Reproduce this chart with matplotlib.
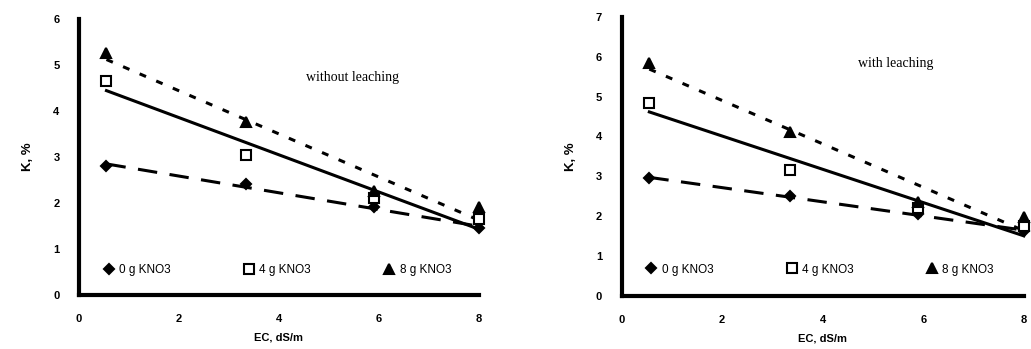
import numpy as np
import matplotlib.pyplot as plt

plt.rcParams['lines.scale_dashes'] = False
plt.rcParams['font.family'] = ['Liberation Sans', 'DejaVu Sans']

# data
ec = [0.55, 3.35, 5.9, 8.0]
labels = ["0 g KNO3", "4 g KNO3", "8 g KNO3"]

k_without_0 = [2.8, 2.4, 1.9, 1.45]
k_without_4 = [4.65, 3.05, 2.1, 1.65]
k_without_8 = [5.25, 3.75, 2.25, 1.9]

k_with_0 = [2.95, 2.5, 2.05, 1.62]
k_with_4 = [4.85, 3.15, 2.2, 1.75]
k_with_8 = [5.85, 4.1, 2.35, 1.97]

markers = ["D", "s", "^"]
facecols = ["black", "white", "black"]
dashes = [(14, 9), None, (5, 8)]


def panel(ax, series, ymax, title, tx, ty, leg_y):
    x = np.array(ec)
    xx = np.linspace(x[0], x[-1], 50)
    for ys, m, fc, d, lab in zip(series, markers, facecols, dashes, labels):
        # linear trend line through each series
        p = np.polyfit(x, ys, 1)
        line, = ax.plot(xx, np.polyval(p, xx), color="black", lw=2.2, clip_on=False)
        if d is not None:
            line.set_dashes(d)
        ax.plot(x, ys, linestyle="none", marker=m, markersize=6.5 if m != "D" else 5,
                markerfacecolor=fc, markeredgecolor="black", markeredgewidth=1.5,
                clip_on=False, label=lab, zorder=5)
    ax.set_xlim(0, 8)
    ax.set_ylim(0, ymax)
    ax.set_xticks([0, 2, 4, 6, 8])
    ax.set_yticks(range(0, ymax + 1))
    for s in ["top", "right"]:
        ax.spines[s].set_visible(False)
    for s in ["left", "bottom"]:
        ax.spines[s].set_linewidth(3)
    ax.tick_params(length=0, pad=14, labelsize=8)
    for t in ax.get_xticklabels() + ax.get_yticklabels():
        t.set_fontweight("bold")
    ax.set_xlabel("EC, dS/m", fontsize=8, fontweight="bold", labelpad=6)
    ax.set_ylabel("K, %", fontsize=9.5, fontweight="bold", labelpad=14)
    ax.text(tx, ty, title, family="Liberation Serif", fontsize=10)
    ax.legend(loc="lower left", bbox_to_anchor=(0.03, leg_y), ncol=3, frameon=False,
              fontsize=8.5, handletextpad=0.3, columnspacing=6.0, handlelength=1.2)


fig = plt.figure(figsize=(10.31, 3.49), dpi=100)
ax1 = fig.add_axes([0.0766, 0.155, 0.388, 0.791])
ax2 = fig.add_axes([0.603, 0.152, 0.39, 0.80])

panel(ax1, [k_without_0, k_without_4, k_without_8], 6, "without leaching", 4.55, 4.65, 0.03)
panel(ax2, [k_with_0, k_with_4, k_with_8], 7, "with leaching", 4.7, 5.75, 0.035)

fig.savefig("out.png", dpi=100)
